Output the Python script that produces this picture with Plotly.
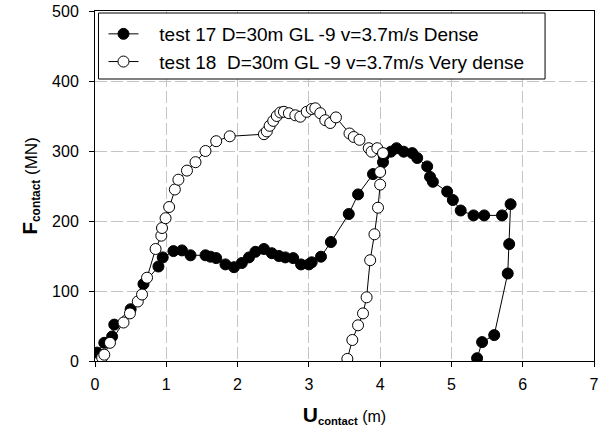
import plotly.graph_objects as go

# test 17 (filled markers)
x17 = [0.03, 0.13, 0.24, 0.27, 0.50, 0.68, 0.89, 0.95, 1.10, 1.22, 1.34, 1.55, 1.62, 1.70,
       1.83, 1.95, 2.06, 2.16, 2.25, 2.37, 2.48, 2.58, 2.67, 2.78, 2.89, 3.00, 3.04, 3.17,
       3.31, 3.56, 3.69, 3.90, 4.04, 4.05, 4.15, 4.23, 4.33, 4.45, 4.52, 4.66, 4.70, 4.74,
       4.94, 5.02, 5.13, 5.31, 5.46, 5.71, 5.83, 5.81, 5.79, 5.60, 5.43, 5.36]
y17 = [12, 26, 35, 52, 74, 110, 135, 148, 157, 158, 151, 151, 149, 147,
       138, 134, 140, 148, 156, 160, 154, 150, 148, 147, 138, 138, 141, 149,
       170, 210, 238, 267, 284, 293, 299, 304, 299, 297, 290, 278, 263, 256,
       242, 230, 215, 208, 208, 208, 224, 167, 125, 37, 27, 4]

# test 18 (open markers)
x18 = [0.10, 0.13, 0.21, 0.40, 0.49, 0.60, 0.66, 0.73, 0.85, 0.93, 0.94, 0.99, 1.04, 1.12,
       1.17, 1.29, 1.41, 1.55, 1.70, 1.89, 2.37, 2.41, 2.45, 2.50, 2.55, 2.60, 2.65, 2.72,
       2.81, 2.88, 2.97, 3.04, 3.09, 3.16, 3.23, 3.30, 3.38, 3.57, 3.63, 3.71, 3.84, 3.88,
       3.96, 4.04, 4.00, 4.00, 3.97, 3.92, 3.86, 3.81, 3.76, 3.69, 3.61, 3.54]
y18 = [5, 9, 26, 55, 68, 85, 95, 119, 160, 179, 190, 204, 220, 245,
       259, 272, 284, 300, 314, 321, 324, 328, 336, 343, 350, 355, 356, 354,
       351, 349, 356, 360, 361, 354, 344, 340, 348, 325, 320, 316, 304, 299,
       304, 297, 270, 252, 219, 181, 144, 91, 68, 51, 30, 3]

name17 = "\u00a0\u00a0\u00a0test 17 D=30m GL -9 v=3.7m/s Dense"
name18 = "\u00a0\u00a0\u00a0test 18\u00a0 D=30m GL -9 v=3.7m/s Very dense"

FONT = "Arial, Liberation Sans, sans-serif"

fig = go.Figure()
fig.add_trace(go.Scatter(
    x=x17, y=y17, mode="lines+markers", name=name17,
    line=dict(color="black", width=1),
    marker=dict(symbol="circle", size=11, color="black", line=dict(color="black", width=1)),
))
fig.add_trace(go.Scatter(
    x=x18, y=y18, mode="lines+markers", name=name18,
    line=dict(color="black", width=1),
    marker=dict(symbol="circle", size=11, color="white", line=dict(color="black", width=1)),
))

grid = dict(showgrid=True, gridcolor="#c4c4c4", griddash="12px,4px", gridwidth=1)
fig.update_xaxes(
    range=[0, 7], dtick=1, tick0=0, ticks="outside", ticklen=5, tickcolor="black",
    showline=True, linecolor="black", linewidth=1, mirror=True, zeroline=False,
    automargin=False, ticklabelstandoff=4,
    tickfont=dict(family=FONT, size=16, color="black"),
    title=dict(text="<span style='font-size:21px'><b>U</b></span><b><sub>contact</sub></b> (m)",
               font=dict(family=FONT, size=16, color="black"), standoff=18),
    **grid,
)
fig.update_yaxes(
    range=[0, 500], dtick=100, tick0=0, ticks="outside", ticklen=5, tickcolor="black",
    showline=True, linecolor="black", linewidth=1, mirror=True, zeroline=False,
    automargin=False, ticklabelstandoff=7,
    tickfont=dict(family=FONT, size=16, color="black"),
    title=dict(text="<span style='font-size:21px'><b>F</b></span><b><sub>contact</sub></b> (MN)",
               font=dict(family=FONT, size=17, color="black"), standoff=10),
    **grid,
)

# legend frame (paper coords of plot area: x 94.5..594, y 11..361)
fig.add_shape(type="rect", xref="paper", yref="paper",
              x0=(98 - 94.5) / 499.5, x1=(545 - 94.5) / 499.5,
              y0=(361 - 79) / 350, y1=(361 - 13) / 350,
              line=dict(color="black", width=1), fillcolor="white", layer="above")

fig.update_layout(
    width=607, height=437,
    margin=dict(l=94.5, r=13, t=11, b=76),
    plot_bgcolor="white", paper_bgcolor="white",
    showlegend=True,
    legend=dict(x=(103 - 94.5) / 499.5, y=(361 - 15) / 350, xanchor="left", yanchor="top",
                bgcolor="rgba(0,0,0,0)", borderwidth=0,
                font=dict(family=FONT, size=19, color="black")),
)
fig.write_html("out.html")
